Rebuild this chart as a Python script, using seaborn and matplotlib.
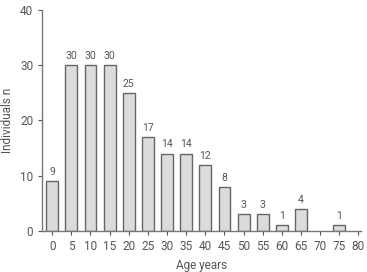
import matplotlib
matplotlib.use("Agg")
import matplotlib.pyplot as plt
import pandas as pd
import seaborn as sns

ages = [0, 5, 10, 15, 20, 25, 30, 35, 40, 45, 50, 55, 60, 65, 75]
counts = [9, 30, 30, 30, 25, 17, 14, 14, 12, 8, 3, 3, 1, 4, 1]
x_ticks = list(range(0, 85, 5))
y_ticks = [0, 10, 20, 30, 40]


def main():
    sns.set_style("ticks")
    plt.rcParams["font.family"] = ["Roboto", "DejaVu Sans"]
    text_color = "#555555"
    axis_color = "#777777"

    df = pd.DataFrame({"Age": ages, "Individuals": counts})

    fig = plt.figure(figsize=(3.67, 2.72), dpi=100)
    ax = fig.add_axes([0.115, 0.151, 0.87, 0.812])
    sns.barplot(data=df, x="Age", y="Individuals", native_scale=True,
                width=0.62, color="#dcdcdc", edgecolor="#666666",
                linewidth=1.0, saturation=1, ax=ax)

    for c in ax.containers:
        ax.bar_label(c, padding=3, fontsize=7.5, color=text_color)

    ax.set_xlim(-2.6, 80.8)
    ax.set_ylim(0, 40)
    ax.set_xticks(x_ticks)
    ax.set_yticks(y_ticks)
    ax.set_xlabel("Age years", fontsize=8.5, color=text_color, labelpad=4)
    ax.set_ylabel("Individuals n", fontsize=8.5, color=text_color, labelpad=4)
    ax.tick_params(labelsize=8.5, colors=text_color, length=3, width=0.8)
    for t in ax.get_xticklines() + ax.get_yticklines():
        t.set_color(axis_color)
    sns.despine(ax=ax)
    for s in ("left", "bottom"):
        ax.spines[s].set_color(axis_color)
        ax.spines[s].set_linewidth(1.0)

    fig.savefig("out.png", dpi=100)


if __name__ == "__main__":
    main()
